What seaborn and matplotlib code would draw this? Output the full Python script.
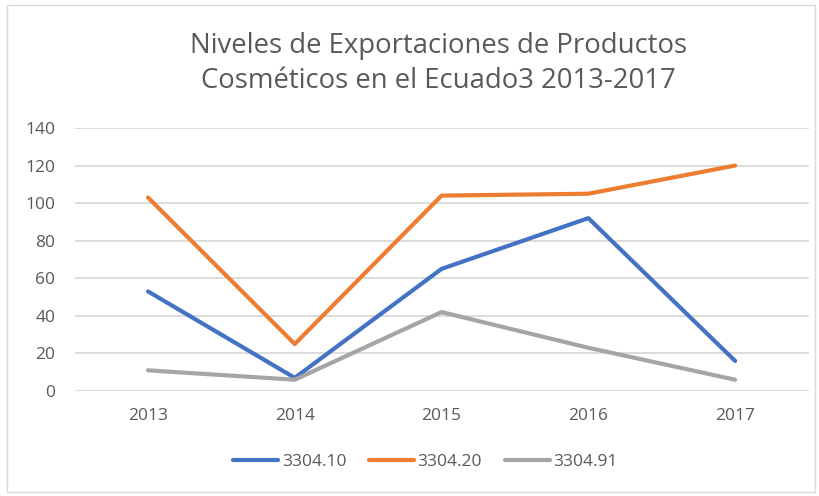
import pandas as pd
import seaborn as sns
import matplotlib.pyplot as plt
from matplotlib.patches import Rectangle

# Data
years = ['2013', '2014', '2015', '2016', '2017']
serie_3304_10 = [53, 7, 65, 92, 16]
serie_3304_20 = [103, 25, 104, 105, 120]
serie_3304_91 = [11, 6, 42, 23, 6]
series_names = ['3304.10', '3304.20', '3304.91']
colors = ['#4472C4', '#ED7D31', '#A5A5A5']

rows = []
for name, vals in zip(series_names, [serie_3304_10, serie_3304_20, serie_3304_91]):
    for yr, v in zip(years, vals):
        rows.append({'year': yr, 'value': v, 'serie': name})
df = pd.DataFrame(rows)

sns.set_theme(style='white')
plt.rcParams['font.family'] = ['Open Sans', 'DejaVu Sans']

fig = plt.figure(figsize=(8.2, 4.96), dpi=100)
ax = fig.add_axes([0.091, 0.2117, 0.895, 0.5303])

g = sns.lineplot(data=df, x='year', y='value', hue='serie', palette=colors,
                 linewidth=3, sort=False, ax=ax)

ax.set_xlim(-0.5, 4.5)
ax.set_ylim(0, 140)
ax.set_yticks(range(0, 141, 20))
ax.yaxis.grid(True, color='#D9D9D9', linewidth=1.3)
ax.set_axisbelow(True)
for s in ax.spines.values():
    s.set_visible(False)
ax.tick_params(axis='both', length=0, labelsize=12.5, labelcolor='#595959')
ax.tick_params(axis='x', pad=12)
ax.tick_params(axis='y', pad=14)
ax.set_xlabel('')
ax.set_ylabel('')

fig.text(0.535, 0.907, 'Niveles de Exportaciones de Productos', ha='center', va='center',
         fontsize=19.8, color='#595959')
fig.text(0.535, 0.837, 'Cosméticos en el Ecuado3 2013-2017', ha='center', va='center',
         fontsize=19.8, color='#595959')

leg = ax.legend(loc='center', bbox_to_anchor=(0.478, -0.27), ncol=3, frameon=False,
                fontsize=12.5, handlelength=2.6, handletextpad=0.2, columnspacing=1.3)
for t in leg.get_texts():
    t.set_color('#595959')

# chart frame
fig.patches.append(Rectangle((0.009, 0.008), 0.985, 0.982, transform=fig.transFigure,
                             fill=False, edgecolor='#D9D9D9', linewidth=1))

plt.savefig('out.png', dpi=100)
plt.close()
